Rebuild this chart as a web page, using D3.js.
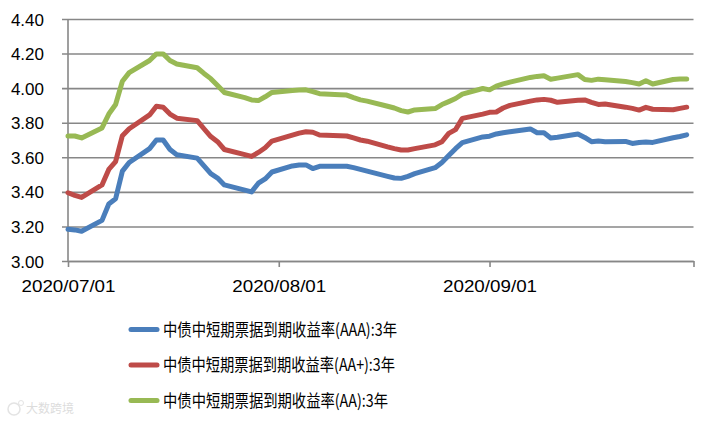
<!DOCTYPE html>
<html>
<head>
<meta charset="utf-8">
<script src="https://cdn.jsdelivr.net/npm/d3@7"></script>
<style>
  body { margin: 0; background: #fff; }
  svg { display: block; }
  .tick text { font-family: "Liberation Sans", Arial, sans-serif; font-size: 17px; fill: #000; }
  .legend text { font-family: "Noto Sans CJK SC", sans-serif; font-size: 17px; fill: #000; }
</style>
</head>
<body>
<svg id="chart" width="713" height="427"></svg>
<script>
// trading days, 2020-07-01 .. 2020-09-30
const dates = [
  "2020-07-01","2020-07-02","2020-07-03","2020-07-06","2020-07-07","2020-07-08","2020-07-09","2020-07-10",
  "2020-07-13","2020-07-14","2020-07-15","2020-07-16","2020-07-17","2020-07-20","2020-07-21","2020-07-22",
  "2020-07-23","2020-07-24","2020-07-27","2020-07-28","2020-07-29","2020-07-30","2020-07-31",
  "2020-08-03","2020-08-04","2020-08-05","2020-08-06","2020-08-07","2020-08-10","2020-08-11","2020-08-12",
  "2020-08-13","2020-08-14","2020-08-17","2020-08-18","2020-08-19","2020-08-20","2020-08-21","2020-08-24",
  "2020-08-25","2020-08-26","2020-08-27","2020-08-28","2020-08-31",
  "2020-09-01","2020-09-02","2020-09-03","2020-09-04","2020-09-07","2020-09-08","2020-09-09","2020-09-10",
  "2020-09-11","2020-09-14","2020-09-15","2020-09-16","2020-09-17","2020-09-18","2020-09-21","2020-09-22",
  "2020-09-23","2020-09-24","2020-09-25","2020-09-28","2020-09-29","2020-09-30"
];

const aaa = [
  3.183, 3.180, 3.172, 3.235, 3.330, 3.360, 3.520, 3.570,
  3.650, 3.700, 3.700, 3.645, 3.615, 3.595, 3.550, 3.505,
  3.480, 3.440, 3.410, 3.400, 3.450, 3.475, 3.515,
  3.550, 3.555, 3.556, 3.535, 3.548, 3.548, 3.548, 3.540,
  3.530, 3.520, 3.490, 3.480, 3.478, 3.490, 3.505, 3.540,
  3.570, 3.610, 3.650, 3.685, 3.718,
  3.722, 3.735, 3.742, 3.748, 3.764, 3.742, 3.742, 3.712,
  3.716, 3.735, 3.715, 3.690, 3.694, 3.690, 3.692, 3.680,
  3.686, 3.688, 3.686, 3.713, 3.720, 3.730
];

const aaPlus = [
  3.395, 3.380, 3.368, 3.440, 3.530, 3.575, 3.725, 3.765,
  3.845, 3.895, 3.890, 3.850, 3.826, 3.812, 3.765, 3.720,
  3.690, 3.645, 3.615, 3.605, 3.628, 3.655, 3.694,
  3.728, 3.740, 3.748, 3.745, 3.729, 3.725, 3.723, 3.712,
  3.700, 3.693, 3.660, 3.650, 3.642, 3.642, 3.650, 3.672,
  3.690, 3.738, 3.760, 3.825, 3.850,
  3.860, 3.862, 3.885, 3.900, 3.925, 3.932, 3.935, 3.930,
  3.918, 3.930, 3.932, 3.918, 3.906, 3.908, 3.890, 3.883,
  3.873, 3.889, 3.878, 3.875, 3.883, 3.890
];

const aa = [
  3.723, 3.723, 3.712, 3.770, 3.850, 3.905, 4.040, 4.090,
  4.160, 4.198, 4.198, 4.160, 4.140, 4.118, 4.085, 4.055,
  4.015, 3.975, 3.945, 3.932, 3.928, 3.950, 3.975,
  3.987, 3.989, 3.990, 3.980, 3.968, 3.962, 3.960, 3.945,
  3.932, 3.925, 3.895, 3.885, 3.870, 3.862, 3.874, 3.882,
  3.905, 3.922, 3.940, 3.965, 3.998,
  3.990, 4.012, 4.025, 4.035, 4.062, 4.068, 4.072, 4.052,
  4.058, 4.078, 4.050, 4.045, 4.052, 4.048, 4.038, 4.032,
  4.024, 4.043, 4.024, 4.050, 4.053, 4.053
];

const seriesNames = [
  "中债中短期票据到期收益率(AAA):3年",
  "中债中短期票据到期收益率(AA+):3年",
  "中债中短期票据到期收益率(AA):3年"
];
const seriesColors = ["#4a7ebb", "#be4b48", "#98b954"];

const yTicks = [3.00, 3.20, 3.40, 3.60, 3.80, 4.00, 4.20, 4.40];
const xTicks = ["2020-07-01", "2020-08-01", "2020-09-01", "2020-10-01"];
const xTickLabels = ["2020/07/01", "2020/08/01", "2020/09/01", ""];

const parse = d3.timeParse("%Y-%m-%d");

// plot area
const plotLeft = 68, plotRight = 693.5, plotTop = 19, plotBottom = 261;

const svg = d3.select("#chart");

const xScale = d3.scaleTime()
  .domain([parse(xTicks[0]), parse(xTicks[xTicks.length - 1])])
  .range([plotLeft, plotRight]);

const yScale = d3.scaleLinear()
  .domain([3.0, 4.4])
  .range([plotBottom, plotTop]);

// horizontal grid lines + y labels
const yAxis = svg.append("g")
  .attr("transform", `translate(${plotLeft},0)`)
  .call(d3.axisLeft(yScale)
    .tickValues(yTicks)
    .tickFormat(d3.format(".2f"))
    .tickSize(-(plotRight - plotLeft))
    .tickPadding(8));
yAxis.select(".domain").remove();
yAxis.selectAll(".tick line")
  .attr("x1", -6)
  .attr("stroke", "#878787")
  .attr("stroke-width", 1.6);
yAxis.selectAll(".tick text").attr("x", -24).attr("dy", "0.36em");

// left axis line
svg.append("line")
  .attr("x1", plotLeft).attr("x2", plotLeft)
  .attr("y1", plotTop).attr("y2", plotBottom)
  .attr("stroke", "#878787")
  .attr("stroke-width", 1.6);

// x axis
const xAxis = svg.append("g")
  .attr("transform", `translate(0,${plotBottom})`)
  .call(d3.axisBottom(xScale)
    .tickValues(xTicks.map(parse))
    .tickFormat((d, i) => xTickLabels[i])
    .tickSize(6)
    .tickSizeOuter(0)
    .tickPadding(9));
xAxis.select(".domain")
  .attr("stroke", "#878787")
  .attr("stroke-width", 1.6);
xAxis.selectAll(".tick line")
  .attr("stroke", "#878787")
  .attr("stroke-width", 1.6);
xAxis.selectAll(".tick text")
  .attr("dy", "0.95em")
  .attr("font-size", 18)
  .filter((d, i) => xTickLabels[i] !== "")
  .attr("textLength", 94)
  .attr("lengthAdjust", "spacingAndGlyphs");

// lines
const line = d3.line()
  .x((d) => xScale(d.date))
  .y((d) => yScale(d.value));

[aaa, aaPlus, aa].forEach((values, i) => {
  const data = values.map((v, j) => ({ date: parse(dates[j]), value: v }));
  svg.append("path")
    .datum(data)
    .attr("fill", "none")
    .attr("stroke", seriesColors[i])
    .attr("stroke-width", 5)
    .attr("stroke-linejoin", "round")
    .attr("stroke-linecap", "round")
    .attr("d", line);
});

// legend
const legend = svg.append("g").attr("class", "legend");
const legendY = [329.5, 365, 400.5];
const legendWidths = [234, 232, 225];
seriesNames.forEach((name, i) => {
  legend.append("line")
    .attr("x1", 131).attr("x2", 157)
    .attr("y1", legendY[i]).attr("y2", legendY[i])
    .attr("stroke", seriesColors[i])
    .attr("stroke-width", 5)
    .attr("stroke-linecap", "round");
  legend.append("text")
    .attr("x", 163)
    .attr("y", legendY[i])
    .attr("dy", "0.36em")
    .attr("textLength", legendWidths[i])
    .attr("lengthAdjust", "spacingAndGlyphs")
    .text(name);
});

// watermark
const wm = svg.append("g").attr("opacity", 0.4);
wm.append("circle").attr("cx", 14).attr("cy", 409).attr("r", 6)
  .attr("fill", "none").attr("stroke", "#bbb").attr("stroke-width", 1.5);
wm.append("circle").attr("cx", 21).attr("cy", 403).attr("r", 2.5)
  .attr("fill", "none").attr("stroke", "#bbb").attr("stroke-width", 1);
wm.append("text")
  .attr("x", 26).attr("y", 409).attr("dy", "0.36em")
  .attr("font-family", "Noto Sans CJK SC, sans-serif")
  .attr("font-size", 12)
  .attr("fill", "#aaa")
  .text("大数跨境");
</script>
</body>
</html>
